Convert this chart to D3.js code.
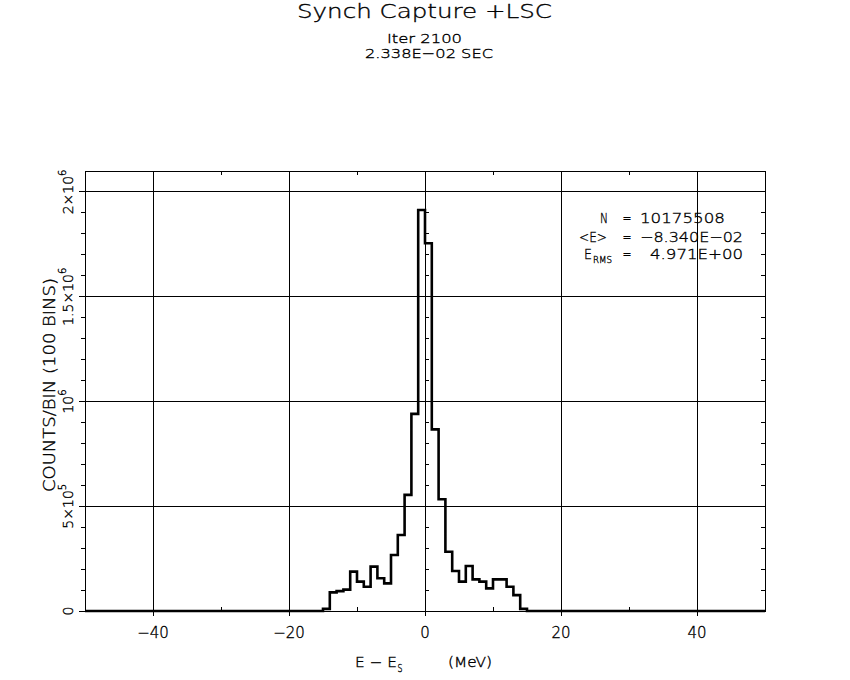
<!DOCTYPE html>
<html>
<head>
<meta charset="utf-8">
<script src="https://cdn.jsdelivr.net/npm/d3@7"></script>
<style>
  body { margin: 0; background: #fff; }
  text { font-family: "DejaVu Sans", sans-serif; font-weight: 200; fill: #000; stroke: #000; stroke-width: 0.35px; }
</style>
</head>
<body>
<svg id="chart" width="850" height="680"></svg>
<script>
// ---- DATA ----
const binStart = -50;          // MeV, left edge of first bin
const binWidth = 1;            // 100 bins over -50..50
const counts = [
  0, 0, 0, 0, 0, 0, 0, 0, 0, 0,                 // -50 .. -41
  0, 0, 0, 0, 0, 0, 0, 0, 0, 0,                 // -40 .. -31
  0, 0, 0, 0, 0, 0, 0, 0, 0, 0,                 // -30 .. -21
  0, 0, 0, 0, 0, 10000, 89000, 95000, 102000, 188000,        // -20 .. -11
  140000, 116000, 212000, 156000, 132000, 267000, 363000, 554000, 941000, 1914000, // -10 .. -1
  1755000, 867000, 533000, 283000, 191000, 140000, 215000, 151000, 140000, 108000, // 0 .. 9
  151000, 151000, 116000, 76000, 10000, 0, 0, 0, 0, 0,       // 10 .. 19
  0, 0, 0, 0, 0, 0, 0, 0, 0, 0,                 // 20 .. 29
  0, 0, 0, 0, 0, 0, 0, 0, 0, 0,                 // 30 .. 39
  0, 0, 0, 0, 0, 0, 0, 0, 0, 0                  // 40 .. 49
];
const xDomain = [-50, 50];
const yDomain = [0, 2.1e6];
const xMajorTicks = [-40, -20, 0, 20, 40];
const xMinorTicks = [-30, -10, 10, 30];
const yMajorTicks = [0, 5e5, 1e6, 1.5e6, 2e6];
const yMinorTicks = [1e5, 2e5, 3e5, 4e5, 6e5, 7e5, 8e5, 9e5, 1.1e6, 1.2e6, 1.3e6, 1.4e6, 1.6e6, 1.7e6, 1.8e6, 1.9e6];
const xTickLabels = ["\u221240", "\u221220", "0", "20", "40"];
const yTickBase = ["0", "5\u00d710", "10", "1.5\u00d710", "2\u00d710"];
const yTickExp = ["", "5", "6", "6", "6"];

const title = "Synch Capture +LSC";
const subtitle1 = "Iter 2100";
const subtitle2 = "2.338E\u221202 SEC";
const statN = "10175508";
const statMean = "\u22128.340E\u221202";
const statRms = "4.971E+00";

// ---- LAYOUT ----
const plot = {left: 85, right: 765, top: 171, bottom: 611};

const svg = d3.select('#chart');
svg.append('rect').attr('width', 850).attr('height', 680).attr('fill', '#fff');

const x = d3.scaleLinear().domain(xDomain).range([plot.left, plot.right]);
const y = d3.scaleLinear().domain(yDomain).range([plot.bottom, plot.top]);

const g = svg.append('g').attr('shape-rendering', 'crispEdges')
  .attr('stroke', '#000').attr('stroke-width', 1);

// grid lines (major), extending a little outside left/bottom like tick marks
g.selectAll('.vgrid').data(xMajorTicks).enter().append('line')
  .attr('x1', d => x(d)).attr('x2', d => x(d))
  .attr('y1', plot.top).attr('y2', plot.bottom + 5);
g.selectAll('.hgrid').data(yMajorTicks).enter().append('line')
  .attr('y1', d => y(d)).attr('y2', d => y(d))
  .attr('x1', plot.left - 6).attr('x2', plot.right);

// minor ticks: left (outward), right (inward), on x=0 line (right side)
g.selectAll('.ltick').data(yMinorTicks).enter().append('line')
  .attr('y1', d => y(d)).attr('y2', d => y(d))
  .attr('x1', plot.left - 4).attr('x2', plot.left);
g.selectAll('.rtick').data(yMinorTicks).enter().append('line')
  .attr('y1', d => y(d)).attr('y2', d => y(d))
  .attr('x1', plot.right - 4).attr('x2', plot.right);
g.selectAll('.ztick').data(yMinorTicks).enter().append('line')
  .attr('y1', d => y(d)).attr('y2', d => y(d))
  .attr('x1', x(0)).attr('x2', x(0) + 4);
// minor x ticks top (down) and bottom (up)
g.selectAll('.ttick').data(xMinorTicks).enter().append('line')
  .attr('x1', d => x(d)).attr('x2', d => x(d))
  .attr('y1', plot.top).attr('y2', plot.top + 4);
g.selectAll('.btick').data(xMinorTicks).enter().append('line')
  .attr('x1', d => x(d)).attr('x2', d => x(d))
  .attr('y1', plot.bottom - 4).attr('y2', plot.bottom);

// frame
g.append('rect')
  .attr('x', plot.left).attr('y', plot.top)
  .attr('width', plot.right - plot.left).attr('height', plot.bottom - plot.top)
  .attr('fill', 'none');

// ---- HISTOGRAM ----
const pts = counts.map((c, i) => [binStart + i * binWidth, c]);
pts.push([binStart + counts.length * binWidth, counts[counts.length - 1]]);
svg.append('path')
  .datum(pts)
  .attr('fill', 'none')
  .attr('stroke', '#000')
  .attr('stroke-width', 2.6)
  .attr('stroke-linejoin', 'miter')
  .attr('d', d3.line().x(d => x(d[0])).y(d => y(d[1])).curve(d3.curveStepAfter));

// ---- TEXT ----
function txt(str, px, py, size, opts) {
  opts = opts || {};
  const t = svg.append('text')
    .attr('x', px).attr('y', py)
    .attr('font-size', size)
    .attr('text-anchor', opts.anchor || 'start')
    .text(str);
  if (opts.len) t.attr('textLength', opts.len).attr('lengthAdjust', 'spacingAndGlyphs');
  return t;
}

txt(title, 424.5, 18, 19.5, {anchor: 'middle', len: 255});
txt(subtitle1, 387, 43, 13, {len: 75});
txt(subtitle2, 365, 57.5, 13, {len: 128});

// statistics box
txt('N', 608, 223, 14.5, {anchor: 'end', len: 8});
txt('=', 627, 223, 14.5, {anchor: 'middle', len: 9});
txt(statN, 640, 223, 14.5, {len: 85});
txt('<E>', 579, 241.5, 14.5, {len: 28});
txt('=', 627, 241.5, 14.5, {anchor: 'middle', len: 9});
txt(statMean, 640, 241.5, 14.5, {len: 103});
txt('E', 584, 258.5, 14.5, {len: 8});
txt('RMS', 593, 263, 9.5, {len: 19});
txt('=', 627, 258.5, 14.5, {anchor: 'middle', len: 9});
txt(statRms, 650, 258.5, 14.5, {len: 93});

// x tick labels
xMajorTicks.forEach((v, i) => {
  txt(xTickLabels[i], x(v), 638, 15, {anchor: 'middle'});
});

// y tick labels (rotated)
yMajorTicks.forEach((v, i) => {
  const t = svg.append('text')
    .attr('transform', `translate(73,${y(v)}) rotate(-90)`)
    .attr('text-anchor', 'middle')
    .attr('font-size', 14);
  t.append('tspan').text(yTickBase[i]);
  if (yTickExp[i]) t.append('tspan').attr('dy', -7).attr('font-size', 10).text(yTickExp[i]);
});

// axis titles
svg.append('text')
  .attr('transform', 'translate(55,385) rotate(-90)')
  .attr('text-anchor', 'middle')
  .attr('font-size', 15)
  .attr('textLength', 214).attr('lengthAdjust', 'spacingAndGlyphs')
  .text('COUNTS/BIN (100 BINS)');

txt('E \u2212 E', 355, 667, 13.5, {len: 42});
txt('S', 397.5, 672, 10, {len: 5});
txt('(MeV)', 448, 667, 13.5, {len: 44});
</script>
</body>
</html>
